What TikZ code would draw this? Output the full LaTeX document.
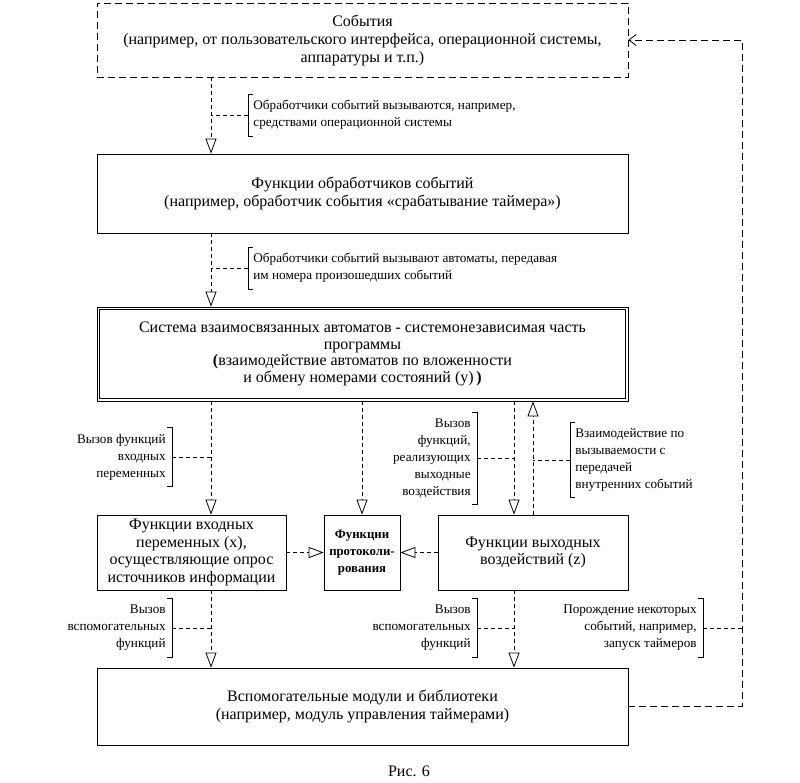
\documentclass[tikz,border=0pt]{standalone}
\usepackage{fontspec}
\setmainfont{Liberation Serif}
\usetikzlibrary{arrows.meta}
\begin{document}
\begin{tikzpicture}[x=1pt,y=-1pt,
  every path/.style={line width=0.8pt},
  mainfont/.style={font=\fontsize{16}{17.5}\selectfont},
  box/.style={draw, mainfont, align=center, inner sep=0pt, minimum width=531pt},
  smallbox/.style={draw, mainfont, align=center, inner sep=0pt, minimum height=75pt},
  anntext/.style={font=\fontsize{13.2}{17}\selectfont, inner ysep=6pt},
  annL/.style={anntext, anchor=west, align=left, inner xsep=5pt},
  annR/.style={anntext, anchor=east, align=right, inner xsep=6pt},
  conn/.style={dash pattern=on 4pt off 3pt},
  arr/.style={conn, -{Triangle[open, length=15pt, width=11pt]}},
  fb/.style={dash pattern=on 7pt off 4pt, -{Straight Barb[length=7pt, width=11pt]}},
  leader/.style={dash pattern=on 4pt off 3pt}
]
\useasboundingbox (0,0) rectangle (800,782);

% column coordinates
\coordinate (cx1) at (211,0);
\coordinate (cx2) at (514,0);
\coordinate (cr) at (742,0);

% boxes
\node[box, dash pattern=on 7pt off 4pt, minimum height=74pt, font=\fontsize{16}{18}\selectfont] (box1) at (362.5,40)
  {События\\(например, от пользовательского интерфейса, операционной системы,\\аппаратуры и т.п.)};
\node[box, minimum height=79pt] (box2) at (362.5,193.5)
  {Функции обработчиков событий\\(например, обработчик события «срабатывание таймера»)};
\node[box, minimum width=531pt, minimum height=94pt,
      font=\fontsize{16}{16.5}\selectfont] (box3) at (362.5,354)
  {Система взаимосвязанных автоматов - системонезависимая часть\\программы\\\textbf{(}взаимодействие автоматов по вложенности\\и обмену номерами состояний (y)\,\textbf{)}};
\draw ([shift={(3pt,3pt)}]box3.south west) rectangle ([shift={(-3pt,-3pt)}]box3.north east);
\node[smallbox, minimum width=189pt] (box4) at (191.5,552.5)
  {Функции входных\\переменных (x),\\осуществляющие опрос\\источников информации};
\node[smallbox, minimum width=76pt, font=\bfseries\fontsize{12.8}{17}\selectfont] (box5) at (362,552.5)
  {Функции\\протоколи-\\рования};
\node[smallbox, minimum width=190pt] (box6) at (533,552.5)
  {Функции выходных\\воздействий (z)};
\node[box, minimum height=77pt] (box7) at (362.5,706.5)
  {Вспомогательные модули и библиотеки\\(например, модуль управления таймерами)};

% connectors
\draw[arr] (box1.south -| cx1) -- (box2.north -| cx1);
\draw[arr] (box2.south -| cx1) -- (box3.north -| cx1);
\draw[arr] (box3.south -| cx1) -- (box4.north -| cx1);
\draw[arr] (box3.south -| box5.north) -- (box5.north);
\draw[arr] (box3.south -| cx2) -- (box6.north -| cx2);
\draw[arr] (box6.north) -- (box3.south -| box6.north);
\draw[arr] (box4.east) -- (box5.west);
\draw[arr] (box6.west) -- (box5.east);
\draw[arr] (box4.south -| cx1) -- (box7.north -| cx1);
\draw[arr] (box6.south -| cx2) -- (box7.north -| cx2);
\draw[fb] (box7.east) -- (box7.east -| cr) -- (box1.east -| cr) -- (box1.east);

% annotations
\node[annL] (ann1) at (248,115) {Обработчики событий вызываются, например,\\средствами операционной системы};
\node[annL] (ann2) at (248,268) {Обработчики событий вызывают автоматы, передавая\\им номера произошедших событий};
\node[annR] (ann3) at (172,457) {Вызов функций\\входных\\переменных};
\node[annR] (ann4) at (477,458) {Вызов\\функций,\\реализующих\\выходные\\воздействия};
\node[annL] (ann5) at (570,460) {Взаимодействие по\\вызываемости с\\передачей\\внутренних событий};
\node[annR] (ann6) at (172,628) {Вызов\\вспомогательных\\функций};
\node[annR] (ann7) at (477,628) {Вызов\\вспомогательных\\функций};
\node[annR] (ann8) at (703,628) {Порождение некоторых\\событий, например,\\запуск таймеров};

% brackets
\foreach \a in {ann1,ann2,ann5}{
  \draw ([xshift=5pt]\a.north west) -- (\a.north west) -- (\a.south west) -- ([xshift=5pt]\a.south west);
}
\foreach \a in {ann3,ann4,ann6,ann7,ann8}{
  \draw ([xshift=-5pt]\a.north east) -- (\a.north east) -- (\a.south east) -- ([xshift=-5pt]\a.south east);
}

% leaders
\draw[leader] (ann1.west) -- (ann1.west -| cx1);
\draw[leader] (ann2.west) -- (ann2.west -| cx1);
\draw[leader] (ann3.east) -- (ann3.east -| cx1);
\draw[leader] (ann4.east) -- (ann4.east -| cx2);
\draw[leader] (ann5.west) -- (ann5.west -| box6.north);
\draw[leader] (ann6.east) -- (ann6.east -| cx1);
\draw[leader] (ann7.east) -- (ann7.east -| cx2);
\draw[leader] (ann8.east) -- (ann8.east -| cr);

% caption
\node[mainfont] (cap) at (409,771) {Рис. 6};
\end{tikzpicture}
\end{document}
